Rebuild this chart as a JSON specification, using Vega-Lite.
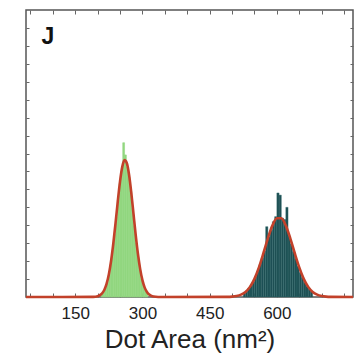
{
  "$schema": "https://vega.github.io/schema/vega-lite/v6.json",
  "width": 327,
  "height": 287,
  "autosize": "none",
  "padding": {"left": 26, "top": 10, "right": 11, "bottom": 59},
  "background": "white",
  "config": {
    "view": {"stroke": "#555", "strokeWidth": 1.5},
    "font": "Liberation Sans"
  },
  "datasets": {
    "green": [
      {"a": 208, "b": 212, "n": 0.04}, {"a": 212, "b": 216, "n": 0.07}, {"a": 216, "b": 220, "n": 0.13},
      {"a": 220, "b": 224, "n": 0.20}, {"a": 224, "b": 228, "n": 0.31}, {"a": 228, "b": 232, "n": 0.46},
      {"a": 232, "b": 236, "n": 0.65}, {"a": 236, "b": 240, "n": 0.87}, {"a": 240, "b": 244, "n": 1.11},
      {"a": 244, "b": 248, "n": 1.35}, {"a": 248, "b": 252, "n": 1.58}, {"a": 252, "b": 256, "n": 1.75},
      {"a": 256, "b": 260, "n": 2.15}, {"a": 260, "b": 264, "n": 1.98}, {"a": 264, "b": 268, "n": 1.81},
      {"a": 268, "b": 272, "n": 1.67}, {"a": 272, "b": 276, "n": 1.47}, {"a": 276, "b": 280, "n": 1.23},
      {"a": 280, "b": 284, "n": 0.99}, {"a": 284, "b": 288, "n": 0.75}, {"a": 288, "b": 292, "n": 0.55},
      {"a": 292, "b": 296, "n": 0.38}, {"a": 296, "b": 300, "n": 0.25}, {"a": 300, "b": 304, "n": 0.16},
      {"a": 304, "b": 308, "n": 0.10}, {"a": 308, "b": 312, "n": 0.06}
    ],
    "dark": [
      {"a": 525, "b": 530, "n": 0.05}, {"a": 530, "b": 535, "n": 0.08}, {"a": 535, "b": 540, "n": 0.12},
      {"a": 540, "b": 545, "n": 0.16}, {"a": 545, "b": 550, "n": 0.21}, {"a": 550, "b": 555, "n": 0.28},
      {"a": 555, "b": 560, "n": 0.36}, {"a": 560, "b": 565, "n": 0.45}, {"a": 565, "b": 570, "n": 0.54},
      {"a": 570, "b": 575, "n": 0.64}, {"a": 575, "b": 580, "n": 0.98}, {"a": 580, "b": 585, "n": 0.84},
      {"a": 585, "b": 590, "n": 0.93}, {"a": 590, "b": 595, "n": 1.05}, {"a": 595, "b": 600, "n": 1.12},
      {"a": 600, "b": 605, "n": 1.45}, {"a": 605, "b": 610, "n": 1.42}, {"a": 610, "b": 615, "n": 1.10},
      {"a": 615, "b": 620, "n": 1.08}, {"a": 620, "b": 625, "n": 1.25}, {"a": 625, "b": 630, "n": 0.85},
      {"a": 630, "b": 635, "n": 0.74}, {"a": 635, "b": 640, "n": 0.63}, {"a": 640, "b": 645, "n": 0.53},
      {"a": 645, "b": 650, "n": 0.43}, {"a": 650, "b": 655, "n": 0.34}, {"a": 655, "b": 660, "n": 0.27},
      {"a": 660, "b": 665, "n": 0.20}, {"a": 665, "b": 670, "n": 0.15}, {"a": 670, "b": 675, "n": 0.11},
      {"a": 675, "b": 680, "n": 0.08}
    ],
    "fit": [
      {"x": 40, "y": 0}, {"x": 190, "y": 0.002}, {"x": 200, "y": 0.011}, {"x": 205, "y": 0.025},
      {"x": 210, "y": 0.052}, {"x": 215, "y": 0.102}, {"x": 220, "y": 0.186}, {"x": 225, "y": 0.317},
      {"x": 230, "y": 0.505}, {"x": 235, "y": 0.749}, {"x": 240, "y": 1.037}, {"x": 245, "y": 1.340},
      {"x": 250, "y": 1.615}, {"x": 255, "y": 1.817}, {"x": 260, "y": 1.907}, {"x": 265, "y": 1.868},
      {"x": 270, "y": 1.708}, {"x": 275, "y": 1.456}, {"x": 280, "y": 1.158}, {"x": 285, "y": 0.860},
      {"x": 290, "y": 0.596}, {"x": 295, "y": 0.385}, {"x": 300, "y": 0.232}, {"x": 305, "y": 0.131},
      {"x": 310, "y": 0.069}, {"x": 315, "y": 0.034}, {"x": 320, "y": 0.015}, {"x": 325, "y": 0.006},
      {"x": 335, "y": 0.001}, {"x": 490, "y": 0.002}, {"x": 500, "y": 0.005}, {"x": 510, "y": 0.014},
      {"x": 520, "y": 0.033}, {"x": 530, "y": 0.071}, {"x": 540, "y": 0.141}, {"x": 550, "y": 0.253},
      {"x": 560, "y": 0.413}, {"x": 570, "y": 0.610}, {"x": 580, "y": 0.818}, {"x": 590, "y": 0.995},
      {"x": 600, "y": 1.097}, {"x": 610, "y": 1.097}, {"x": 620, "y": 0.995}, {"x": 630, "y": 0.818},
      {"x": 640, "y": 0.610}, {"x": 650, "y": 0.413}, {"x": 660, "y": 0.253}, {"x": 670, "y": 0.141},
      {"x": 680, "y": 0.071}, {"x": 690, "y": 0.033}, {"x": 700, "y": 0.014}, {"x": 710, "y": 0.005},
      {"x": 720, "y": 0.002}, {"x": 770, "y": 0}
    ],
    "panel": [{"x": 89, "y": 3.53, "t": "J"}]
  },
  "layer": [
    {
      "data": {"name": "green"},
      "mark": {"type": "rect", "color": "#92d680", "stroke": "#92d680", "strokeWidth": 0.6},
      "encoding": {
        "x": {
          "field": "a", "type": "quantitative",
          "scale": {"domain": [40, 770], "nice": false, "zero": false},
          "axis": {
            "orient": "bottom", "title": "Dot Area (nm²)",
            "values": [50, 100, 150, 200, 250, 300, 350, 400, 450, 500, 550, 600, 650, 700, 750],
            "labelExpr": "indexof([150,300,450,600], datum.value) >= 0 ? datum.label : ''",
            "grid": false, "tickSize": -4, "tickColor": "#666", "domain": false,
            "labelFontSize": 17, "labelColor": "#222", "labelPadding": 12,
            "titleFontSize": 26, "titleFontWeight": "normal", "titleColor": "#222", "titlePadding": 5
          }
        },
        "x2": {"field": "b"},
        "y": {
          "field": "n", "type": "quantitative",
          "scale": {"domain": [0, 4], "nice": false},
          "axis": {
            "orient": "left", "title": null, "labels": false, "grid": false, "domain": false,
            "values": [0.25, 0.5, 0.75, 1, 1.25, 1.5, 1.75, 2, 2.25, 2.5, 2.75, 3, 3.25, 3.5, 3.75],
            "tickSize": -3, "tickColor": "#666"
          }
        },
        "y2": {"datum": 0}
      }
    },
    {
      "data": {"name": "dark"},
      "mark": {"type": "rect", "color": "#1d4f53", "stroke": "#2f6a6c", "strokeWidth": 0.4},
      "encoding": {
        "x": {"field": "a", "type": "quantitative", "axis": null},
        "x2": {"field": "b"},
        "y": {"field": "n", "type": "quantitative", "axis": null},
        "y2": {"datum": 0}
      }
    },
    {
      "data": {"name": "fit"},
      "mark": {"type": "line", "color": "#c2412a", "strokeWidth": 2.6, "interpolate": "monotone"},
      "encoding": {
        "x": {
          "field": "x", "type": "quantitative",
          "axis": {
            "orient": "top", "title": null, "labels": false, "grid": false, "domain": false,
            "values": [50, 100, 150, 200, 250, 300, 350, 400, 450, 500, 550, 600, 650, 700, 750],
            "tickSize": -4, "tickColor": "#666"
          }
        },
        "y": {
          "field": "y", "type": "quantitative",
          "axis": {
            "orient": "right", "title": null, "labels": false, "grid": false, "domain": false,
            "values": [0.25, 0.5, 0.75, 1, 1.25, 1.5, 1.75, 2, 2.25, 2.5, 2.75, 3, 3.25, 3.5, 3.75],
            "tickSize": -3, "tickColor": "#666"
          }
        }
      }
    },
    {
      "data": {"name": "panel"},
      "mark": {"type": "text", "fontSize": 23, "fontWeight": "bold", "align": "center", "baseline": "alphabetic", "color": "#111"},
      "encoding": {
        "x": {"field": "x", "type": "quantitative", "axis": null},
        "y": {"field": "y", "type": "quantitative", "axis": null},
        "text": {"field": "t"}
      }
    }
  ],
  "resolve": {"axis": {"x": "independent", "y": "independent"}}
}
